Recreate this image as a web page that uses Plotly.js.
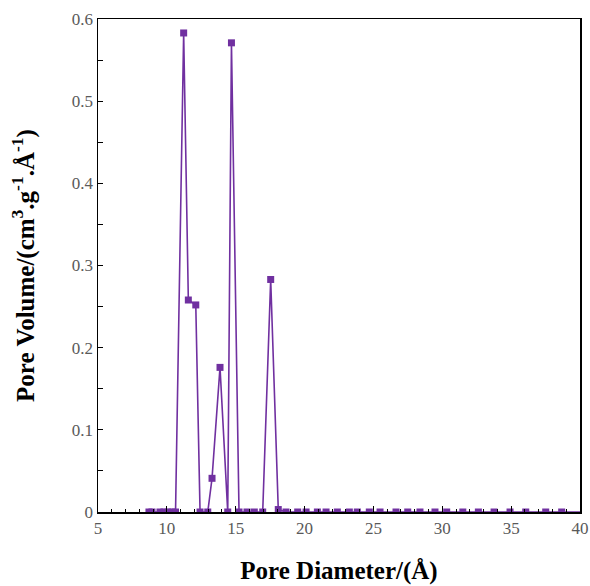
<!DOCTYPE html>
<html>
<head>
<meta charset="utf-8">
<script src="https://cdn.plot.ly/plotly-3.0.1.min.js"></script>
<style>html,body{margin:0;padding:0;background:#fff;}#chart{width:590px;height:586px;}</style>
</head>
<body>
<div id="chart"></div>
<script>
// Pore diameter (Å)
const poreDiameter = [8.70, 8.92, 9.50, 9.79, 10.08, 10.37, 10.63, 11.22, 11.56, 12.10, 12.41, 12.97, 13.28, 13.86, 14.42, 14.69, 15.24, 15.82, 16.35, 16.96, 17.54, 18.09, 18.65, 19.50,
  20.11, 20.93, 21.56, 22.38, 23.25, 23.83, 24.70, 25.48, 26.64, 27.49, 28.38, 29.47, 30.32, 31.49, 32.62, 33.76, 34.92, 36.06, 37.51, 38.67, 40.30];
// Pore volume (cm3 g-1 Å-1)
const poreVolume = [0, 0, 0, 0, 0, 0, 0, 0.583, 0.258, 0.252, 0, 0, 0.041, 0.176, 0, 0.571, 0, 0, 0, 0, 0.283, 0.003, 0, 0,
  0, 0, 0, 0, 0, 0, 0, 0, 0, 0, 0, 0, 0, 0, 0, 0, 0, 0, 0, 0, 0];
const xTickValues = [5, 10, 15, 20, 25, 30, 35, 40];
const yTickValues = [0, 0.1, 0.2, 0.3, 0.4, 0.5, 0.6];

const purple = '#7030A0';
const trace = {
  x: poreDiameter, y: poreVolume, type: 'scatter', mode: 'lines+markers',
  line: {color: purple, width: 1.6},
  marker: {symbol: 'square', size: 7, color: purple},
  showlegend: false
};
const tickFont = {family: 'Liberation Serif, Times New Roman, serif', size: 17, color: '#595959'};
const titleFont = {family: 'Liberation Serif, Times New Roman, serif', size: 25, color: '#000', weight: 'bold'};
const layout = {
  width: 590, height: 586,
  margin: {l: 98, r: 10, t: 19, b: 74},
  paper_bgcolor: '#fff', plot_bgcolor: '#fff',
  xaxis: {
    range: [5, 40], tickvals: xTickValues, ticktext: xTickValues.map(String),
    showgrid: false, zeroline: false,
    showline: true, linecolor: '#000', linewidth: 1.5, mirror: true,
    ticks: 'inside', ticklen: 6, tickwidth: 1, tickcolor: '#000',
    minor: {ticks: 'inside', dtick: 1, ticklen: 3, tickwidth: 1, tickcolor: '#000', showgrid: false},
    tickfont: tickFont,
    title: {text: '<b>Pore Diameter/(Å)</b>', font: titleFont, standoff: 24}
  },
  yaxis: {
    range: [0, 0.6], tickvals: yTickValues, ticktext: yTickValues.map(String),
    showgrid: false, zeroline: false,
    showline: true, linecolor: '#000', linewidth: 1.5, mirror: true,
    ticks: 'inside', ticklen: 5, tickwidth: 1, tickcolor: '#000',
    minor: {ticks: 'inside', dtick: 0.05, ticklen: 5, tickwidth: 1, tickcolor: '#000', showgrid: false},
    tickfont: tickFont,
    title: {text: '<b>Pore Volume/(cm<sup>3</sup>.g<sup>-1</sup>.Å<sup>-1</sup>)</b>', font: titleFont, standoff: 30}
  }
};
Plotly.newPlot('chart', [trace], layout, {displayModeBar: false, staticPlot: true});
</script>
</body>
</html>
